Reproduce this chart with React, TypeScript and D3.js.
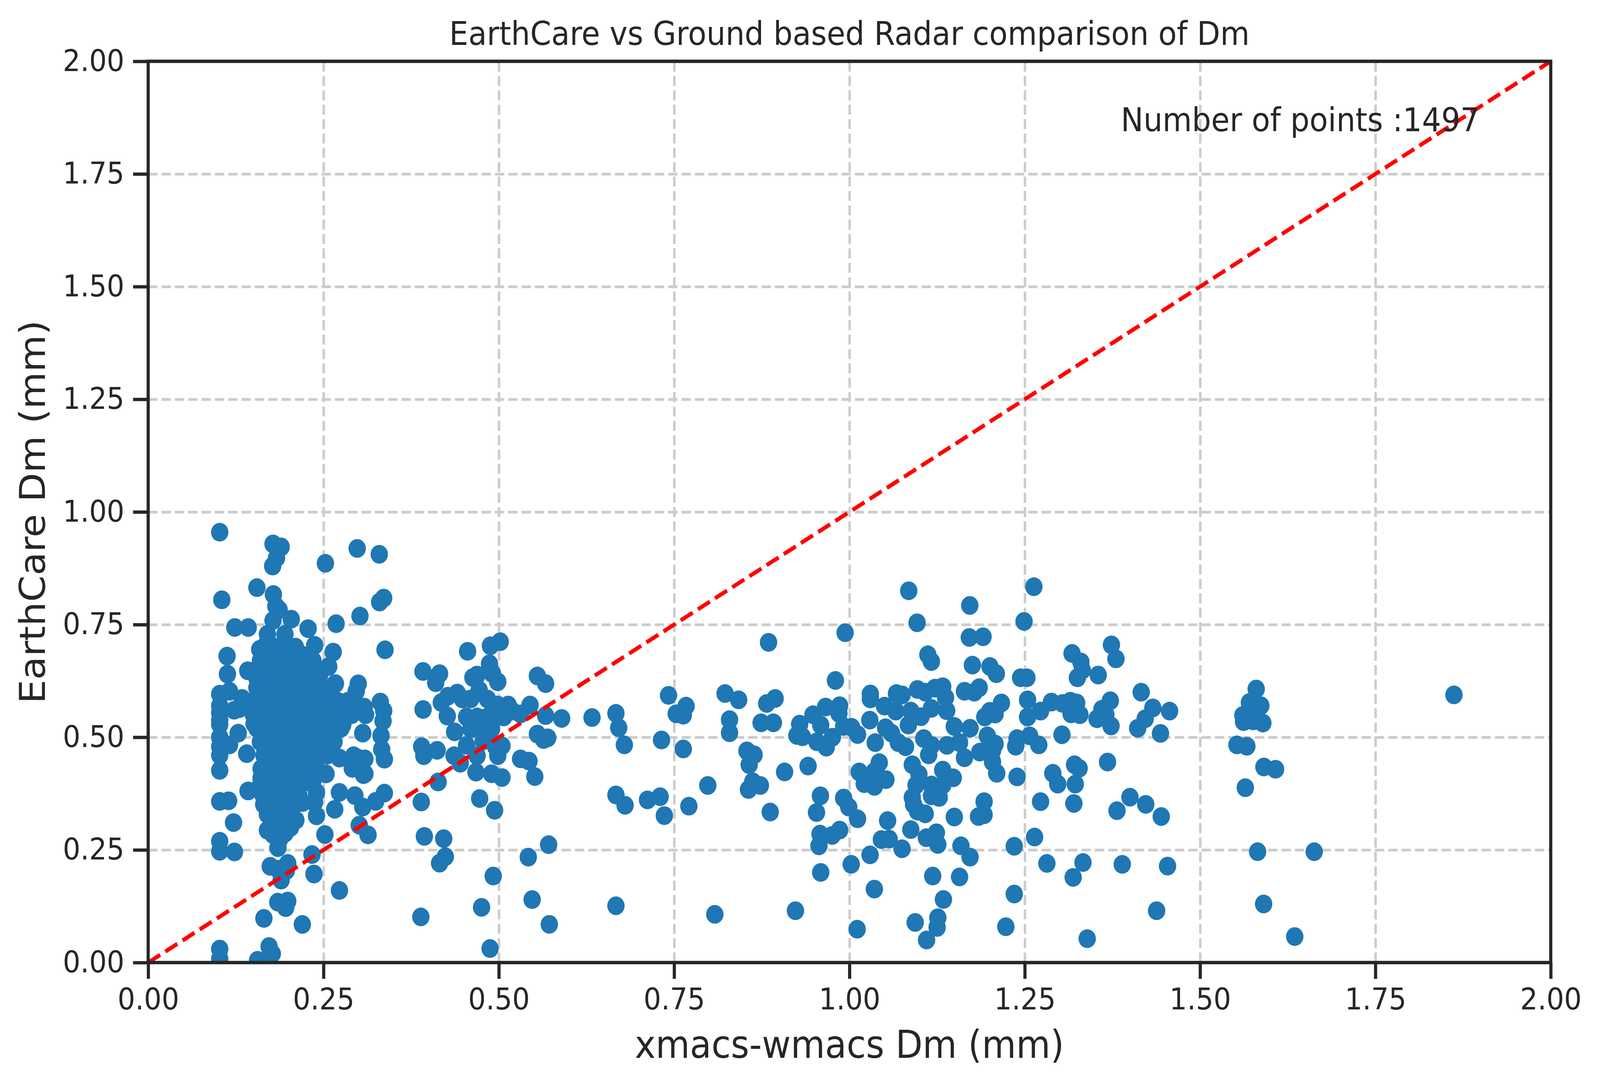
import React, { useEffect, useRef } from 'react';
import * as d3 from 'd3';

type Pt = [number, number];

// column of points at ~0.10 mm
const leftColumn: Pt[] = [
  [0.102, 0.955], [0.105, 0.805], [0.102, 0.5955], [0.102, 0.57], [0.102, 0.554],
  [0.102, 0.538], [0.102, 0.528], [0.102, 0.5], [0.102, 0.4795], [0.102, 0.46],
  [0.102, 0.4266], [0.102, 0.3577], [0.102, 0.2692], [0.102, 0.247], [0.102, 0.03],
  [0.102, 0.008],
];

const leftSparse: Pt[] = [
  [0.1125, 0.68], [0.113, 0.64], [0.116, 0.602], [0.1235, 0.7436], [0.1426, 0.7436],
  [0.142, 0.6475], [0.134, 0.586], [0.13, 0.5635], [0.1227, 0.56], [0.116, 0.483],
  [0.1405, 0.4635], [0.1284, 0.509], [0.151, 0.53], [0.155, 0.5795], [0.155, 0.631],
  [0.1147, 0.359], [0.1217, 0.3106], [0.123, 0.2455], [0.1424, 0.3808], [0.155, 0.832],
  [0.159, 0.695], [0.163, 0.663], [0.1667, 0.486], [0.165, 0.098], [0.156, 0.005],
  [0.1724, 0.0356], [0.177, 0.0196],
];

const leftUpper: Pt[] = [
  [0.178, 0.929], [0.1896, 0.9224], [0.183, 0.898], [0.1775, 0.88], [0.1785, 0.8167],
  [0.2527, 0.886], [0.298, 0.919], [0.3295, 0.906], [0.3358, 0.8087], [0.33, 0.8],
  [0.302, 0.769], [0.268, 0.752], [0.3377, 0.694], [0.182, 0.791], [0.1867, 0.783],
  [0.178, 0.759], [0.204, 0.762], [0.228, 0.741], [0.17, 0.7285], [0.195, 0.7285],
  [0.202, 0.698], [0.2374, 0.704], [0.22, 0.682], [0.2638, 0.689], [0.2575, 0.657],
  [0.2297, 0.6516], [0.186, 0.663], [0.203, 0.647], [0.178, 0.631], [0.239, 0.621],
  [0.267, 0.619], [0.2995, 0.6186], [0.2966, 0.602], [0.2125, 0.5987], [0.2316, 0.5667],
  [0.2508, 0.579], [0.266, 0.5747], [0.291, 0.5795], [0.308, 0.5667], [0.331, 0.578],
  [0.3358, 0.5587], [0.3349, 0.5362], [0.306, 0.509], [0.332, 0.5035], [0.2775, 0.528],
  [0.2508, 0.528], [0.262, 0.506],
];

const leftLower: Pt[] = [
  [0.174, 0.2135], [0.185, 0.207], [0.199, 0.22], [0.197, 0.204], [0.1896, 0.183],
  [0.1848, 0.134], [0.199, 0.1365], [0.196, 0.122], [0.2198, 0.0846], [0.185, 0.255],
  [0.1877, 0.2744], [0.178, 0.284], [0.17, 0.2936], [0.195, 0.287], [0.203, 0.3],
  [0.2106, 0.316], [0.201, 0.332], [0.17, 0.329], [0.1647, 0.351], [0.163, 0.374],
  [0.159, 0.39], [0.161, 0.409], [0.161, 0.43], [0.178, 0.438], [0.193, 0.454],
  [0.2125, 0.438], [0.224, 0.406], [0.2355, 0.406], [0.24, 0.3776], [0.237, 0.355],
  [0.24, 0.3256], [0.22, 0.355], [0.203, 0.361], [0.1858, 0.3833], [0.1858, 0.351],
  [0.193, 0.403], [0.178, 0.403], [0.2536, 0.4186], [0.2727, 0.4538], [0.293, 0.459],
  [0.2986, 0.454], [0.291, 0.431], [0.307, 0.417], [0.333, 0.473], [0.3368, 0.4513],
  [0.2727, 0.3776], [0.266, 0.34], [0.2947, 0.3705], [0.306, 0.345], [0.3244, 0.3577],
  [0.3368, 0.376], [0.301, 0.3048], [0.3135, 0.2833], [0.252, 0.284], [0.2336, 0.2397],
  [0.2364, 0.1965], [0.2727, 0.16], [0.309, 0.452], [0.309, 0.419],
];

// solid core of the left cluster
const leftCore: Pt[] = [
  [0.165, 0.7], [0.18, 0.7], [0.195, 0.7], [0.21, 0.7],
  [0.16, 0.67], [0.175, 0.67], [0.19, 0.67], [0.205, 0.67], [0.22, 0.67], [0.235, 0.67],
  [0.155, 0.64], [0.17, 0.64], [0.185, 0.64], [0.2, 0.64], [0.215, 0.64], [0.23, 0.64], [0.245, 0.64],
  [0.155, 0.61], [0.17, 0.61], [0.185, 0.61], [0.2, 0.61], [0.215, 0.61], [0.23, 0.61], [0.245, 0.61], [0.26, 0.61],
  [0.15, 0.58], [0.165, 0.58], [0.18, 0.58], [0.195, 0.58], [0.21, 0.58], [0.225, 0.58], [0.24, 0.58],
  [0.255, 0.58], [0.27, 0.58], [0.285, 0.58],
  [0.15, 0.55], [0.165, 0.55], [0.18, 0.55], [0.195, 0.55], [0.21, 0.55], [0.225, 0.55], [0.24, 0.55],
  [0.255, 0.55], [0.27, 0.55], [0.29, 0.55], [0.31, 0.55],
  [0.155, 0.52], [0.17, 0.52], [0.185, 0.52], [0.2, 0.52], [0.215, 0.52], [0.23, 0.52], [0.245, 0.52],
  [0.26, 0.52], [0.275, 0.52],
  [0.16, 0.49], [0.175, 0.49], [0.19, 0.49], [0.205, 0.49], [0.22, 0.49], [0.235, 0.49], [0.25, 0.49], [0.265, 0.49],
  [0.165, 0.46], [0.18, 0.46], [0.195, 0.46], [0.21, 0.46], [0.225, 0.46], [0.24, 0.46], [0.255, 0.46],
  [0.165, 0.43], [0.18, 0.43], [0.195, 0.43], [0.21, 0.43], [0.225, 0.43], [0.24, 0.43],
  [0.17, 0.4], [0.185, 0.4], [0.2, 0.4], [0.215, 0.4], [0.23, 0.4],
  [0.17, 0.37], [0.185, 0.37], [0.2, 0.37], [0.215, 0.37],
  [0.175, 0.34], [0.19, 0.34], [0.205, 0.34],
  [0.18, 0.31], [0.195, 0.31],
  [0.185, 0.28],
];

const midCluster: Pt[] = [
  [0.3918, 0.646], [0.4155, 0.641], [0.41, 0.621], [0.392, 0.5616], [0.418, 0.577],
  [0.4273, 0.591], [0.4407, 0.598], [0.4265, 0.547], [0.437, 0.512], [0.4555, 0.6907],
  [0.488, 0.703], [0.502, 0.712], [0.4867, 0.663], [0.491, 0.641], [0.4985, 0.623],
  [0.463, 0.6325], [0.469, 0.638], [0.448, 0.585], [0.46, 0.585], [0.472, 0.6046],
  [0.4837, 0.585], [0.4985, 0.5715], [0.5133, 0.5715], [0.454, 0.545], [0.469, 0.545],
  [0.4837, 0.545], [0.4955, 0.545], [0.507, 0.545], [0.519, 0.558], [0.531, 0.5517],
  [0.5445, 0.5715], [0.46, 0.5185], [0.475, 0.525], [0.4896, 0.5185], [0.454, 0.482],
  [0.445, 0.4424], [0.4362, 0.459], [0.469, 0.459], [0.4778, 0.492], [0.4955, 0.479],
  [0.5045, 0.481], [0.4985, 0.459], [0.4674, 0.4225], [0.4896, 0.419], [0.5045, 0.4106],
  [0.5513, 0.4126], [0.531, 0.452], [0.543, 0.447], [0.555, 0.636], [0.5667, 0.619],
  [0.5667, 0.548], [0.5896, 0.5417], [0.555, 0.507], [0.5638, 0.495], [0.5697, 0.4987],
  [0.6329, 0.5437], [0.39, 0.479], [0.393, 0.459], [0.412, 0.471],
];

const midLower: Pt[] = [
  [0.4134, 0.4007], [0.3894, 0.3563], [0.3938, 0.28], [0.4214, 0.275], [0.4237, 0.235],
  [0.4155, 0.2205], [0.4727, 0.364], [0.494, 0.338], [0.542, 0.234], [0.571, 0.2616],
  [0.492, 0.192], [0.4754, 0.1225], [0.5475, 0.1397], [0.572, 0.0848], [0.4875, 0.0311],
  [0.3888, 0.1013],
];

const centerPoints: Pt[] = [
  [1.0845, 0.825], [1.1716, 0.7925], [1.0965, 0.754], [0.9938, 0.732], [0.8846, 0.7106],
  [1.1709, 0.7215], [1.1905, 0.723], [1.1118, 0.683], [1.1168, 0.668], [1.1753, 0.66],
  [1.2003, 0.657], [1.2094, 0.641], [0.98, 0.626], [0.742, 0.593], [0.767, 0.569],
  [0.753, 0.552], [0.763, 0.549], [0.667, 0.553], [0.671, 0.521], [0.679, 0.483],
  [0.732, 0.494], [0.763, 0.474], [0.8226, 0.597], [0.842, 0.583], [0.829, 0.539],
  [0.829, 0.51], [0.882, 0.575], [0.894, 0.586], [0.874, 0.532], [0.8915, 0.532],
  [0.8538, 0.4697], [0.864, 0.461], [0.857, 0.439], [0.9075, 0.423], [0.941, 0.436],
  [0.798, 0.393], [0.862, 0.401], [0.873, 0.393], [0.856, 0.384], [0.667, 0.372],
  [0.68, 0.349], [0.712, 0.361], [0.73, 0.368], [0.736, 0.326], [0.771, 0.347],
  [0.887, 0.334], [0.667, 0.126], [0.808, 0.107], [0.923, 0.115], [0.929, 0.529],
  [0.948, 0.55], [0.966, 0.567], [0.986, 0.57], [0.985, 0.553], [0.959, 0.527],
  [0.925, 0.504], [0.933, 0.501], [0.9536, 0.49], [0.967, 0.478], [0.9757, 0.5],
  [0.9917, 0.524], [1.003, 0.522], [1.0116, 0.506], [1.0298, 0.596], [1.0298, 0.585],
  [1.029, 0.538], [1.0367, 0.488], [1.05, 0.569], [1.067, 0.597], [1.075, 0.594],
  [1.0515, 0.521], [1.06, 0.509], [1.0697, 0.488], [1.08, 0.479], [1.066, 0.558],
  [1.097, 0.606], [1.108, 0.6], [1.122, 0.609], [1.133, 0.612], [1.137, 0.588],
  [1.1386, 0.559], [1.1495, 0.524], [1.1168, 0.564], [1.102, 0.5455], [1.0875, 0.558],
  [1.084, 0.527], [1.106, 0.497], [1.113, 0.461], [1.117, 0.482], [1.139, 0.482],
  [1.157, 0.488], [1.164, 0.4545], [1.172, 0.52], [1.164, 0.602], [1.178, 0.6],
  [1.185, 0.61], [1.193, 0.545], [1.2, 0.5575], [1.2077, 0.5516], [1.2167, 0.576],
  [1.1966, 0.503], [1.2077, 0.485], [1.204, 0.47], [1.1858, 0.467], [1.204, 0.4454],
  [1.21, 0.42], [1.0896, 0.439], [1.099, 0.418], [1.095, 0.394], [1.0896, 0.3665],
  [1.0914, 0.351], [1.097, 0.336], [1.108, 0.33], [1.0875, 0.295], [1.1096, 0.277],
  [1.124, 0.288], [1.126, 0.262], [1.117, 0.394], [1.117, 0.37], [1.128, 0.3665],
  [1.133, 0.394], [1.133, 0.427], [1.148, 0.41], [1.0425, 0.4436], [1.0356, 0.424],
  [1.0139, 0.423], [1.021, 0.397], [1.0356, 0.391], [1.052, 0.406], [0.9586, 0.37],
  [0.953, 0.333], [0.9917, 0.365], [0.999, 0.345], [1.0116, 0.319], [1.0544, 0.315],
  [0.958, 0.285], [0.9753, 0.282], [0.986, 0.294], [0.9565, 0.259], [1.0455, 0.273],
  [1.0565, 0.274], [1.075, 0.2525], [1.1495, 0.323], [1.192, 0.357], [1.184, 0.324],
  [1.192, 0.328], [1.159, 0.259], [1.172, 0.234], [1.0294, 0.239], [1.0025, 0.218],
  [0.959, 0.2], [1.0355, 0.163], [1.1187, 0.192], [1.157, 0.19], [1.134, 0.14],
  [1.126, 0.0995], [1.125, 0.078], [1.0937, 0.089], [1.11, 0.05], [1.011, 0.074],
  [1.223, 0.0795], [1.237, 0.48],
];

const rightPoints: Pt[] = [
  [1.263, 0.834], [1.249, 0.757], [1.3174, 0.686], [1.33, 0.667], [1.332, 0.649],
  [1.325, 0.632], [1.3547, 0.638], [1.3736, 0.705], [1.38, 0.674], [1.244, 0.632],
  [1.253, 0.632], [1.254, 0.583], [1.254, 0.545], [1.2725, 0.558], [1.288, 0.578],
  [1.304, 0.575], [1.315, 0.58], [1.324, 0.576], [1.316, 0.552], [1.3286, 0.55],
  [1.36, 0.562], [1.372, 0.581], [1.3656, 0.55], [1.353, 0.541], [1.373, 0.525],
  [1.416, 0.6], [1.4326, 0.565], [1.4217, 0.541], [1.411, 0.52], [1.4435, 0.5085],
  [1.4565, 0.558], [1.239, 0.497], [1.257, 0.503], [1.27, 0.483], [1.303, 0.5055],
  [1.321, 0.439], [1.3275, 0.431], [1.29, 0.42], [1.322, 0.396], [1.297, 0.396],
  [1.368, 0.445], [1.239, 0.412], [1.2725, 0.357], [1.32, 0.353], [1.4, 0.367],
  [1.4225, 0.351], [1.3815, 0.337], [1.4446, 0.324], [1.264, 0.2785], [1.235, 0.258],
  [1.2815, 0.22], [1.333, 0.222], [1.319, 0.189], [1.389, 0.218], [1.4536, 0.214],
  [1.438, 0.115], [1.339, 0.053], [1.235, 0.152],
];

const farRight: Pt[] = [
  [1.5525, 0.483], [1.5667, 0.48], [1.58, 0.607], [1.5703, 0.577], [1.5866, 0.57],
  [1.5775, 0.558], [1.561, 0.5485], [1.562, 0.5346], [1.5757, 0.5364], [1.5895, 0.5315],
  [1.591, 0.434], [1.6076, 0.429], [1.5645, 0.388], [1.582, 0.246], [1.6627, 0.246],
  [1.5906, 0.13], [1.635, 0.0577], [1.862, 0.594],
];

const allPoints: Pt[] = [
  ...leftColumn, ...leftSparse, ...leftCore, ...leftUpper, ...leftLower,
  ...midCluster, ...midLower, ...centerPoints, ...rightPoints, ...farRight,
];

const xDomain: [number, number] = [0, 2];
const yDomain: [number, number] = [0, 2];
const tickValues = [0, 0.25, 0.5, 0.75, 1, 1.25, 1.5, 1.75, 2];
const titleText = 'EarthCare vs Ground based Radar comparison of Dm';
const xLabelText = 'xmacs-wmacs Dm (mm)';
const yLabelText = 'EarthCare Dm (mm)';
const countText = 'Number of points :1497';
const countAt: Pt = [1.387, 1.845];

// drawing is laid out in a 4416x2776 space and stretched over the whole window
const W = 4416;
const H = 2776;
const left = 409;
const right = 4280;
const top = 157;
const bottom = 2465;
const ink = '#262626';
const font = 'DejaVu Sans';

const App: React.FC = () => {
  const ref = useRef<SVGSVGElement>(null);

  useEffect(() => {
    if (!ref.current) return;
    const svg = d3.select(ref.current);
    svg.selectAll('*').remove();

    const x = d3.scaleLinear().domain(xDomain).range([left, right]);
    const y = d3.scaleLinear().domain(yDomain).range([bottom, top]);
    const fmt = d3.format('.2f');

    svg.append('rect').attr('width', W).attr('height', H).attr('fill', '#ffffff');

    svg
      .append('defs')
      .append('clipPath')
      .attr('id', 'plot-clip')
      .append('rect')
      .attr('x', left)
      .attr('y', top)
      .attr('width', right - left)
      .attr('height', bottom - top);

    // grid
    const gx = svg
      .append('g')
      .attr('transform', `translate(0,${bottom})`)
      .call(d3.axisBottom(x).tickValues(tickValues).tickSize(-(bottom - top)).tickFormat(() => ''));
    const gy = svg
      .append('g')
      .attr('transform', `translate(${left},0)`)
      .call(d3.axisLeft(y).tickValues(tickValues).tickSize(-(right - left)).tickFormat(() => ''));
    [gx, gy].forEach((g) => {
      g.select('.domain').remove();
      g.selectAll('line')
        .attr('stroke', '#cccccc')
        .attr('stroke-width', 6.9)
        .attr('stroke-dasharray', '25.7,11.1');
    });

    // points
    svg
      .append('g')
      .attr('clip-path', 'url(#plot-clip)')
      .selectAll('circle')
      .data(allPoints)
      .enter()
      .append('circle')
      .attr('cx', (d) => x(d[0]))
      .attr('cy', (d) => y(d[1]))
      .attr('r', 24)
      .attr('fill', '#1f77b4');

    // 1:1 line
    const line = d3
      .line<Pt>()
      .x((d) => x(d[0]))
      .y((d) => y(d[1]));
    svg
      .append('path')
      .datum([[xDomain[0], yDomain[0]], [xDomain[1], yDomain[1]]] as Pt[])
      .attr('fill', 'none')
      .attr('stroke', 'red')
      .attr('stroke-width', 10.4)
      .attr('stroke-dasharray', '38.5,16.7')
      .attr('d', line)
      .attr('clip-path', 'url(#plot-clip)');

    // axes
    const ax = svg
      .append('g')
      .attr('transform', `translate(0,${bottom})`)
      .call(d3.axisBottom(x).tickValues(tickValues).tickSize(41.7).tickPadding(24).tickFormat((d) => fmt(d as number)));
    const ay = svg
      .append('g')
      .attr('transform', `translate(${left},0)`)
      .call(d3.axisLeft(y).tickValues(tickValues).tickSize(41.7).tickPadding(24).tickFormat((d) => fmt(d as number)));
    [ax, ay].forEach((g) => {
      g.select('.domain').remove();
      g.selectAll('line').attr('stroke', ink).attr('stroke-width', 8.7);
      g.selectAll('text')
        .attr('fill', ink)
        .style('font-family', font)
        .style('font-size', '76.4px');
    });

    svg
      .append('rect')
      .attr('x', left)
      .attr('y', top)
      .attr('width', right - left)
      .attr('height', bottom - top)
      .attr('fill', 'none')
      .attr('stroke', ink)
      .attr('stroke-width', 8.7);

    svg
      .append('text')
      .attr('x', (left + right) / 2)
      .attr('y', 115)
      .attr('text-anchor', 'middle')
      .attr('fill', ink)
      .style('font-family', font)
      .style('font-size', '83.3px')
      .text(titleText);

    svg
      .append('text')
      .attr('x', (left + right) / 2)
      .attr('y', 2709)
      .attr('text-anchor', 'middle')
      .attr('fill', ink)
      .style('font-family', font)
      .style('font-size', '97.2px')
      .text(xLabelText);

    svg
      .append('text')
      .attr('transform', `translate(124,${(top + bottom) / 2}) rotate(-90)`)
      .attr('text-anchor', 'middle')
      .attr('fill', ink)
      .style('font-family', font)
      .style('font-size', '97.2px')
      .text(yLabelText);

    svg
      .append('text')
      .attr('x', x(countAt[0]))
      .attr('y', y(countAt[1]))
      .attr('fill', ink)
      .style('font-family', font)
      .style('font-size', '83.3px')
      .text(countText);
  }, []);

  return (
    <svg
      ref={ref}
      viewBox={`0 0 ${W} ${H}`}
      preserveAspectRatio="none"
      style={{ position: 'fixed', left: 0, top: 0, width: '100vw', height: '100vh', display: 'block' }}
    />
  );
};

export default App;
